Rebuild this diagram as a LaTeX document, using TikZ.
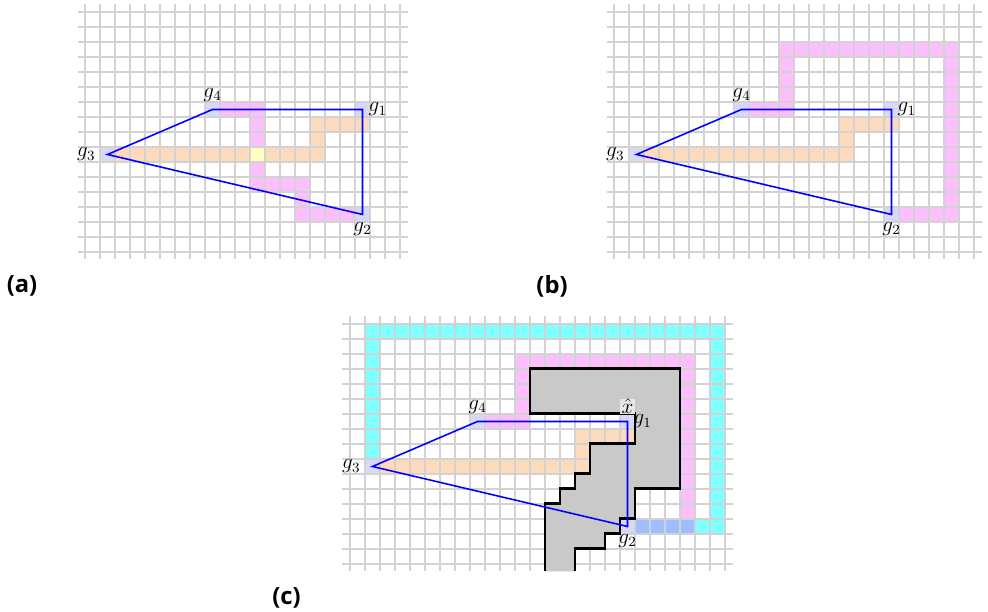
\documentclass[tikz,border=0pt]{standalone}
\usepackage{fontspec}
\newfontfamily\panelfont{Open Sans}
\usetikzlibrary{positioning,backgrounds}
\definecolor{seedc}{RGB}{216,216,248}
\definecolor{orangec}{RGB}{253,218,188}
\definecolor{pinkc}{RGB}{251,192,251}
\definecolor{cyanc}{RGB}{128,255,255}
\definecolor{yellowc}{RGB}{255,255,192}
\definecolor{overlap}{RGB}{160,190,255}

\begin{document}
\begin{tikzpicture}[x=0.3cm,y=0.3cm,
 gridln/.style={gray!35,line width=0.6pt},
 seed/.style={fill=seedc},
 opath/.style={fill=orangec},
 ppath/.style={fill=pinkc},
 cpath/.style={fill=cyanc},
 hull/.style={draw=blue,line width=0.9pt},
 glabel/.style={inner sep=1pt,font=\fontsize{11.5}{14}\selectfont},
 tag/.style={font=\panelfont\bfseries\fontsize{13.5}{16}\selectfont}]
\useasboundingbox (0,0) rectangle (65.867,40.8);
% grids with the cells every panel shares
\foreach \ox/\oy/\w in {5.667/24/21,40.933/24/24,23.333/3.2/25}{
 \begin{scope}[shift={(\ox,\oy)}]
 \begin{scope}[on background layer]
 \fill[seed] (1,6) rectangle ++(1,1) (8,9) rectangle ++(1,1) (18,9) rectangle ++(1,1) (18,2) rectangle ++(1,1);
 \fill[opath] (2,6) rectangle (16,7) (15,7) rectangle (16,8) (15,8) rectangle (19,9);
 \end{scope}
 \draw[gridln,step=1] (-0.5,-0.5) grid (\w+0.5,16.5);
 \end{scope}}
% (a)
\begin{scope}[shift={(5.667,24)},on background layer]
 \fill[ppath] (9,9) rectangle (12,10) (11,4) rectangle (12,9) (12,4) rectangle (15,5) (14,2) rectangle (15,4) (15,2) rectangle (18,3);
 \fill[yellowc] (11,6) rectangle ++(1,1);
\end{scope}
% (b)
\begin{scope}[shift={(40.933,24)},on background layer]
 \fill[ppath] (9,9) rectangle (12,10) (11,10) rectangle (12,13) (11,13) rectangle (23,14) (22,2) rectangle (23,13) (19,2) rectangle (22,3);
\end{scope}
% (c)
\begin{scope}[shift={(23.333,3.2)}]
 \begin{scope}[on background layer]
 \fill[cpath] (1,7) rectangle (2,15) (1,15) rectangle (25,16) (24,2) rectangle (25,15) (23,2) rectangle (24,3);
 \fill[overlap] (19,2) rectangle (23,3);
 \fill[ppath] (9,9) rectangle (12,10) (11,10) rectangle (12,13) (11,13) rectangle (23,14) (22,3) rectangle (23,13);
 \end{scope}
 \filldraw[fill=gray!42,line width=1.7pt,line join=miter] (13,-0.5) -- (13,4) -- (14,4) -- (14,5) -- (15,5) -- (15,6) -- (16,6) -- (16,8) -- (19,8) -- (19,10) -- (12,10) -- (12,13) -- (22,13) -- (22,5) -- (19,5) -- (19,3) -- (18,3) -- (18,2) -- (17,2) -- (17,1) -- (15,1) -- (15,-0.5);
 \fill[gray!18] (18,10) rectangle ++(1,1);
 \node[glabel,inner sep=0pt] (xhat) at (18.5,10.5) {$\hat{x}$};
\end{scope}
% hulls and their labels
\foreach \p/\ox/\oy in {a/5.667/24,b/40.933/24,c/23.333/3.2}{
 \begin{scope}[shift={(\ox,\oy)}]
 \coordinate (v1\p) at (18.5,9.5); \coordinate (v2\p) at (18.5,2.5);
 \coordinate (v3\p) at (1.5,6.5); \coordinate (v4\p) at (8.5,9.5);
 \draw[hull] (v3\p) -- (v4\p) -- (v1\p) -- (v2\p) -- cycle;
 \node[glabel,right=0.08cm of v1\p] (g1\p) {$g_1$};
 \node[glabel,below=0.12cm of v2\p] (g2\p) {$g_2$};
 \node[glabel,left=0.2cm of v3\p] (g3\p) {$g_3$};
 \node[glabel,above=0.12cm of v4\p] (g4\p) {$g_4$};
 \end{scope}}
\node[tag] (taga) at (1.47,21.73) {(a)};
\node[tag] (tagb) at (36.8,21.73) {(b)};
\node[tag] (tagc) at (19.1,0.93) {(c)};
\end{tikzpicture}
\end{document}
